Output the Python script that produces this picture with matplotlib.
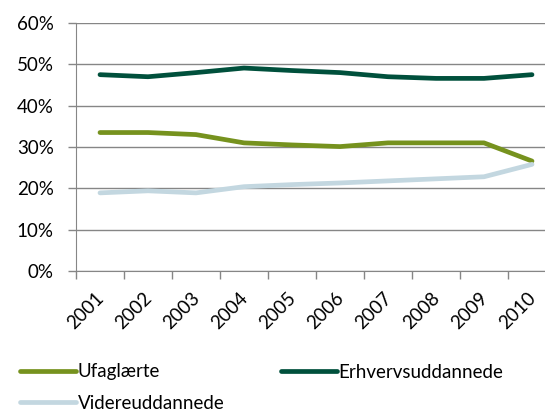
import matplotlib.pyplot as plt
import matplotlib.transforms as mtransforms
from matplotlib.ticker import PercentFormatter

years = ['2001', '2002', '2003', '2004', '2005', '2006', '2007', '2008', '2009', '2010']
ufaglaerte = [33.5, 33.5, 33.0, 31.0, 30.5, 30.1, 31.0, 31.0, 31.0, 26.6]
erhverv = [47.5, 47.0, 48.0, 49.1, 48.5, 48.0, 47.0, 46.6, 46.6, 47.5]
videre = [18.9, 19.4, 18.9, 20.4, 20.9, 21.3, 21.8, 22.3, 22.8, 25.8]

plt.rcParams['font.family'] = ['Lato', 'DejaVu Sans']

fig = plt.figure(figsize=(5.45, 4.12), dpi=100)
ax = fig.add_axes([76 / 545, 141 / 412, 480 / 545, 248 / 412])

x = list(range(len(years)))
l_u, = ax.plot(x, ufaglaerte, color='#76921e', lw=3.4, solid_capstyle='round', label='Ufaglærte')
l_e, = ax.plot(x, erhverv, color='#00503c', lw=3.4, solid_capstyle='round', label='Erhvervsuddannede')
l_v, = ax.plot(x, videre, color='#c3d7e0', lw=3.4, solid_capstyle='round', label='Videreuddannede')

ax.set_xlim(-0.5, 9.5)
ax.set_ylim(0, 60)
ax.set_yticks(range(0, 61, 10))
ax.yaxis.set_major_formatter(PercentFormatter(decimals=0))
ax.set_xticks([i - 0.5 for i in range(10)])
ax.set_xticklabels([])
ax.set_xticks(x, minor=True)
ax.set_xticklabels(years, minor=True, rotation=45, ha='right', va='top',
                   rotation_mode='anchor', fontsize=13.5)
ax.tick_params(axis='x', which='minor', length=0, pad=13)
ax.tick_params(axis='x', which='major', length=6, color='#868686', width=1)
ax.tick_params(axis='y', length=6, color='#868686', width=1, labelsize=13.5, pad=10)

# move year labels a little to the left
shift = mtransforms.ScaledTranslation(-5 / 100, 0, fig.dpi_scale_trans)
for lbl in ax.get_xticklabels(minor=True):
    lbl.set_transform(lbl.get_transform() + shift)

ax.grid(axis='y', color='#868686', lw=1)
for side in ['top', 'right']:
    ax.spines[side].set_visible(False)
ax.spines['left'].set_color('#868686')
ax.spines['bottom'].set_color('#868686')
ax.set_axisbelow(True)

fig.legend([l_u, l_v, l_e], ['Ufaglærte', 'Videreuddannede', 'Erhvervsuddannede'],
           loc='upper left', bbox_to_anchor=(12 / 545, 1 - 356 / 412), ncol=2,
           frameon=False, fontsize=13.5, handlelength=3.0, handletextpad=0.1,
           columnspacing=3.0, labelspacing=0.75, borderaxespad=0)

fig.savefig('out.png', dpi=100)
